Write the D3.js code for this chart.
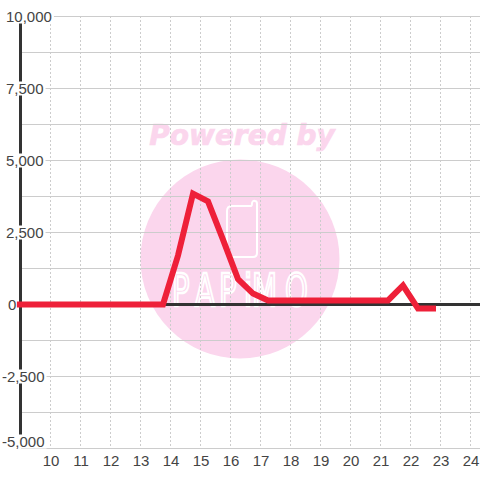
<!DOCTYPE html>
<html>
<head>
<meta charset="utf-8">
<script src="https://cdn.jsdelivr.net/npm/d3@7"></script>
<style>
  html, body { margin: 0; padding: 0; background: #fff; }
  svg { display: block; }
  text { font-family: "Liberation Sans", Arial, sans-serif; }
</style>
</head>
<body>
<div id="chart"></div>
<script>
const hours = [8.88, 13.75, 14.25, 14.75, 15.25, 15.75, 16.25, 16.75, 17.25, 17.75, 18.25, 18.75, 19.25, 19.75, 20.25, 20.75, 21.25, 21.75, 22.25, 22.85];
const values = [0, 0, 1700, 3850, 3580, 2250, 880, 380, 140, 140, 140, 140, 140, 140, 140, 140, 140, 660, -140, -140];
const xTicks = [10, 11, 12, 13, 14, 15, 16, 17, 18, 19, 20, 21, 22, 23, 24];
const yGrid = [-5000, -3750, -2500, -1250, 1250, 2500, 3750, 5000, 6250, 7500, 8750, 10000];
const yLabels = ["-5,000", "-2,500", "0", "2,500", "5,000", "7,500", "10,000"];
const yLabelValues = [-5000, -2500, 0, 2500, 5000, 7500, 10000];
const logoLetters = ["P", "A", "P", "i", "M", "O"];
const logoLeft = [172, 195, 219, 244, 252, 285];

const width = 480, height = 480;
const x = d3.scaleLinear().domain([10, 24]).range([50.5, 470.5]);
const y = d3.scaleLinear().domain([-5000, 10000]).range([448.5, 16.5]);

const svg = d3.select("#chart").append("svg")
  .attr("width", width)
  .attr("height", height);

// watermark sits under everything
const mark = svg.append("g");
mark.append("circle")
  .attr("cx", 240).attr("cy", 259).attr("r", 99.5)
  .attr("fill", "#fbd6ed");
mark.append("text")
  .attr("x", 242).attr("y", 145)
  .attr("text-anchor", "middle")
  .style("font-family", "DejaVu Sans")
  .style("font-weight", "bold")
  .style("font-style", "italic")
  .style("font-size", "28px")
  .attr("fill", "#fbd6ed")
  .attr("stroke", "#fbd6ed")
  .attr("stroke-width", 0.7)
  .text("Powered by");
mark.append("path")
  .attr("d", "M232 206 H251 Q252 206 252 203 Q253 200 255 201 Q257 201 257 204 V253 Q257 257 253 257 H231 Q227 257 227 253 V211 Q227 206 232 206 Z")
  .attr("fill", "none")
  .attr("stroke", "#fff")
  .attr("stroke-width", 2);
mark.append("g").selectAll("text")
  .data(logoLetters)
  .enter().append("text")
  .attr("transform", (d, i) => `translate(${logoLeft[i]},306) scale(0.66,1)`)
  .style("font-family", "DejaVu Sans")
  .style("font-size", "44px")
  .attr("fill", "none")
  .attr("stroke", "#fff")
  .attr("stroke-width", 2.2)
  .attr("vector-effect", "non-scaling-stroke")
  .text(d => d);

// grid
svg.append("g").selectAll("line")
  .data(xTicks)
  .enter().append("line")
  .attr("x1", d => x(d)).attr("x2", d => x(d))
  .attr("y1", 16).attr("y2", 447)
  .attr("stroke", "#ccc")
  .attr("stroke-dasharray", "2,2");

svg.append("g").selectAll("line")
  .data(yGrid)
  .enter().append("line")
  .attr("x1", 21).attr("x2", width)
  .attr("y1", d => y(d)).attr("y2", d => y(d))
  .attr("stroke", "#ccc");

// axis lines
svg.append("line")
  .attr("x1", 20.5).attr("x2", 20.5)
  .attr("y1", 16).attr("y2", 448)
  .attr("stroke", "#333").attr("stroke-width", 3);
svg.append("line")
  .attr("x1", 20).attr("x2", width)
  .attr("y1", y(0)).attr("y2", y(0))
  .attr("stroke", "#333").attr("stroke-width", 3);

// y labels on white boxes that cut the axis and grid
const labels = svg.append("g").selectAll("g")
  .data(yLabels)
  .enter().append("g")
  .attr("transform", (d, i) => {
    const v = yLabelValues[i];
    return `translate(${v < 0 ? 2 : v === 0 ? 8 : 6},${v === -5000 ? y(v) - 7 : y(v)})`;
  });
const labelText = labels.append("text")
  .attr("dy", "0.36em")
  .attr("fill", "#444")
  .style("font-size", "15px")
  .text(d => d);
labelText.each(function(d) {
  if (d === "0") return;
  const w = this.getComputedTextLength();
  d3.select(this.parentNode).insert("rect", "text")
    .attr("x", -6).attr("y", -7)
    .attr("width", w + 8).attr("height", 14)
    .attr("fill", "#fff");
});

// x labels
svg.append("g").selectAll("text")
  .data(xTicks)
  .enter().append("text")
  .attr("x", d => x(d) + 0.5)
  .attr("y", 466)
  .attr("text-anchor", "middle")
  .attr("fill", "#444")
  .style("font-size", "15px")
  .text(d => d);

// series
const line = d3.line()
  .x((d, i) => x(hours[i]))
  .y(d => y(d));
svg.append("path")
  .datum(values)
  .attr("d", line)
  .attr("fill", "none")
  .attr("stroke", "#ee2039")
  .attr("stroke-width", 6)
  .attr("stroke-linejoin", "miter");
</script>
</body>
</html>
